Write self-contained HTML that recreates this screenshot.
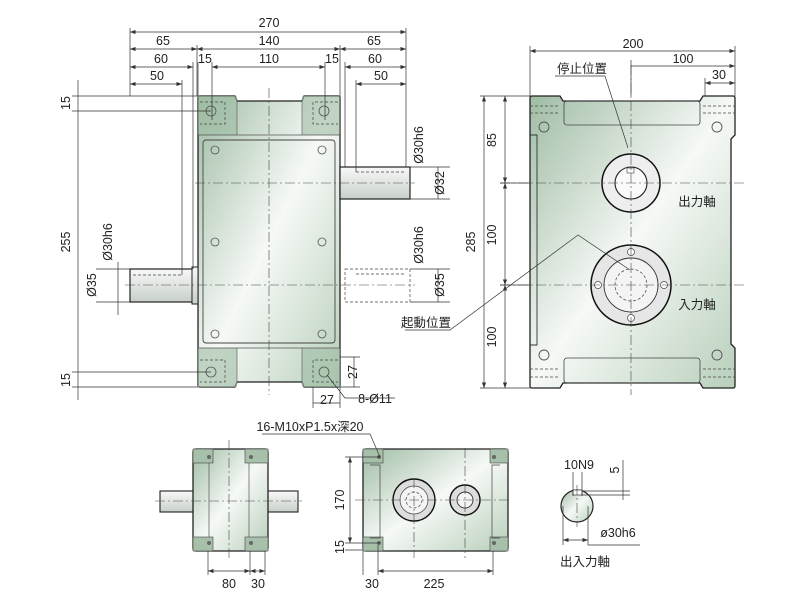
<!DOCTYPE html>
<html><head><meta charset="utf-8"><style>
html,body{margin:0;padding:0;background:#fff}
svg{display:block}
text{font-family:"Liberation Sans","Noto Sans CJK TC",sans-serif;font-size:12.5px;fill:#222}
.d{stroke:#333;stroke-width:0.7;fill:none}
.o{stroke:#222;stroke-width:1.3}
.c{stroke:#444;stroke-width:0.6;stroke-dasharray:10 3 2 3;fill:none}
.h{stroke:#444;stroke-width:0.7;stroke-dasharray:3 2;fill:none}
</style></head><body>
<svg width="800" height="609" viewBox="0 0 800 609">
<defs>
<linearGradient id="g" x1="0" y1="0" x2="1" y2="1">
<stop offset="0" stop-color="#9fbca4"/><stop offset="0.5" stop-color="#f6f9f6"/><stop offset="1" stop-color="#b8cfbb"/></linearGradient>
<linearGradient id="s" x1="0" y1="0" x2="0" y2="1"><stop offset="0" stop-color="#f8f8f8"/><stop offset="1" stop-color="#c8d0c9"/></linearGradient>
<marker id="a" viewBox="0 0 8 6" refX="8" refY="3" markerWidth="8" markerHeight="6" orient="auto-start-reverse"><path d="M0,0L8,3L0,6z" fill="#333"/></marker>
</defs>

<!-- ===== Front view ===== -->
<path class="o" fill="url(#g)" d="M198,98 q0,-2 2,-2 H235 l2,5 H302 l2,-5 H338 q2,0 2,2 V385 q0,2 -2,2 H304 l-2,-5 H237 l-2,5 H200 q-2,0 -2,-2 Z"/>
<rect x="198" y="96" width="39" height="39" fill="#9fbca4" opacity="0.6"/>
<rect x="302" y="96" width="38" height="39" fill="#9fbca4" opacity="0.6"/>
<rect x="198" y="348" width="39" height="39" fill="#9fbca4" opacity="0.6"/>
<rect x="302" y="348" width="38" height="39" fill="#9fbca4" opacity="0.6"/>
<line x1="198" y1="135" x2="340" y2="135" stroke="#555" stroke-width="0.8"/>
<line x1="198" y1="348" x2="340" y2="348" stroke="#555" stroke-width="0.8"/>
<line x1="237" y1="101" x2="237" y2="135" stroke="#555" stroke-width="0.6"/><line x1="302" y1="101" x2="302" y2="135" stroke="#555" stroke-width="0.6"/>
<line x1="237" y1="348" x2="237" y2="382" stroke="#555" stroke-width="0.6"/><line x1="302" y1="348" x2="302" y2="382" stroke="#555" stroke-width="0.6"/>
<rect x="203" y="140" width="132" height="203" rx="3" fill="none" stroke="#444" stroke-width="0.9"/>
<g fill="none" stroke="#555" stroke-width="0.8">
<circle cx="215" cy="150" r="4"/><circle cx="322" cy="150" r="4"/><circle cx="215" cy="242" r="4"/><circle cx="322" cy="242" r="4"/><circle cx="215" cy="334" r="4"/><circle cx="322" cy="334" r="4"/>
<circle cx="211" cy="111" r="5"/><circle cx="324" cy="111" r="5"/><circle cx="211" cy="372" r="5"/><circle cx="324" cy="372" r="5"/></g>
<path class="h" d="M200,102H225V124H200M338,102H313V124H338M200,360H225V382H200M338,360H313V382H338"/>
<!-- shafts -->
<rect x="340" y="167" width="70" height="32" fill="url(#s)" stroke="#222" stroke-width="1.2"/>
<rect x="130" y="269" width="63" height="33" fill="url(#s)" stroke="#222" stroke-width="1.2"/>
<rect x="192" y="267" width="6" height="37" fill="url(#s)" stroke="#222" stroke-width="1"/>
<rect x="345" y="269" width="65" height="33" class="h"/>
<path class="h" d="M356,172H406M356,274H406M133,275H182"/>
<line class="c" x1="269" y1="88" x2="269" y2="395"/>
<line class="c" x1="195" y1="183" x2="415" y2="183"/>
<line class="c" x1="125" y1="285" x2="415" y2="285"/>
<!-- dims top -->
<g class="d">
<path d="M130,28V96M406,28V167M197,45V96M340,45V167M193,62V269M198,62V96M212,62V120M325,62V120M345,62V167M182,80V275M356,80V172"/>
<line x1="130" y1="32" x2="406" y2="32" marker-start="url(#a)" marker-end="url(#a)"/>
<line x1="130" y1="49" x2="197" y2="49" marker-start="url(#a)" marker-end="url(#a)"/>
<line x1="197" y1="49" x2="340" y2="49" marker-start="url(#a)" marker-end="url(#a)"/>
<line x1="340" y1="49" x2="406" y2="49" marker-start="url(#a)" marker-end="url(#a)"/>
<line x1="130" y1="67" x2="193" y2="67" marker-start="url(#a)" marker-end="url(#a)"/>
<line x1="212" y1="67" x2="325" y2="67" marker-start="url(#a)" marker-end="url(#a)"/>
<line x1="345" y1="67" x2="406" y2="67" marker-start="url(#a)" marker-end="url(#a)"/>
<line x1="130" y1="84" x2="182" y2="84" marker-start="url(#a)" marker-end="url(#a)"/>
<line x1="356" y1="84" x2="406" y2="84" marker-start="url(#a)" marker-end="url(#a)"/>
<path d="M72,96H198M72,111H211M72,372H211M72,387H198"/>
<line x1="78" y1="80" x2="78" y2="400"/>
<path d="M96,269H130M96,302H130M118,262V315M410,167H450M410,199H450M410,269H450M410,302H450M438,167V199M438,269V302"/>
<path d="M340,357H360M340,387H360M354,357V387M313,387V408M340,387V408M313,403H340M327,375L345,398H395"/>
</g>
<g text-anchor="middle">
<text x="269" y="27">270</text><text x="163" y="45">65</text><text x="269" y="45">140</text><text x="374" y="45">65</text>
<text x="161" y="63">60</text><text x="205" y="63">15</text><text x="269" y="63">110</text><text x="332" y="63">15</text><text x="375" y="63">60</text>
<text x="157" y="80">50</text><text x="381" y="80">50</text>
<text transform="translate(70,103) rotate(-90)">15</text><text transform="translate(70,242) rotate(-90)">255</text><text transform="translate(70,380) rotate(-90)">15</text>
<text transform="translate(96,285) rotate(-90)">Ø35</text><text transform="translate(112,242) rotate(-90)">Ø30h6</text>
<text transform="translate(423,145) rotate(-90)">Ø30h6</text><text transform="translate(444,183) rotate(-90)">Ø32</text>
<text transform="translate(423,245) rotate(-90)">Ø30h6</text><text transform="translate(444,285) rotate(-90)">Ø35</text>
<text transform="translate(357,372) rotate(-90)">27</text><text x="327" y="404">27</text><text x="375" y="403">8-Ø11</text>
</g>

<!-- ===== Side view ===== -->
<path class="o" fill="url(#g)" d="M530,98 q0,-2 2,-2 H560 l3,5 H700 l3,-5 H733 q2,0 2,2 V135 l-4,4 V344 l4,4 V386 q0,2 -2,2 H703 l-3,-5 H563 l-3,5 H532 q-2,0 -2,-2 Z"/>
<rect x="564" y="101" width="136" height="24" rx="3" fill="none" stroke="#444" stroke-width="0.8"/>
<rect x="564" y="358" width="136" height="25" rx="3" fill="none" stroke="#444" stroke-width="0.8"/>
<path d="M530,135H537V345H530" fill="none" stroke="#333" stroke-width="0.9"/>
<path class="h" d="M530,106H560M530,113H560M703,106H735M703,113H735M530,369H560M530,377H560M703,369H735M703,377H735"/>
<g fill="none" stroke="#555" stroke-width="0.9">
<circle cx="544" cy="127" r="5"/><circle cx="717" cy="127" r="5"/><circle cx="544" cy="355" r="5"/><circle cx="717" cy="355" r="5"/></g>
<circle cx="631" cy="183" r="29" fill="#eee" stroke="#111" stroke-width="1.5"/>
<circle cx="631" cy="183" r="16" fill="#fafafa" stroke="#222" stroke-width="1.1"/>
<rect x="627" y="168" width="7" height="5" fill="none" stroke="#444" stroke-width="0.6"/>
<circle cx="631" cy="285" r="40" fill="#e6e6e6" stroke="#111" stroke-width="1.5"/>
<circle cx="631" cy="285" r="27" fill="#f4f4f4" stroke="#333" stroke-width="0.9"/>
<circle cx="631" cy="285" r="16" class="h"/>
<g fill="#fff" stroke="#444" stroke-width="0.7"><circle cx="631" cy="252" r="3.5"/><circle cx="631" cy="318" r="3.5"/><circle cx="598" cy="285" r="3.5"/><circle cx="664" cy="285" r="3.5"/></g>
<line class="c" x1="631" y1="65" x2="631" y2="395"/>
<line class="c" x1="500" y1="183" x2="745" y2="183"/>
<line class="c" x1="500" y1="285" x2="745" y2="285"/>
<g class="d">
<path d="M530,46V96M735,46V96M631,60V96M705,78V96M480,96H530M500,183H530M500,285H530M480,388H530"/>
<line x1="530" y1="51" x2="735" y2="51" marker-start="url(#a)" marker-end="url(#a)"/>
<line x1="631" y1="66" x2="735" y2="66" marker-end="url(#a)"/>
<line x1="705" y1="83" x2="735" y2="83" marker-start="url(#a)" marker-end="url(#a)"/>
<line x1="484" y1="96" x2="484" y2="388" marker-start="url(#a)" marker-end="url(#a)"/>
<line x1="505" y1="96" x2="505" y2="183" marker-start="url(#a)" marker-end="url(#a)"/>
<line x1="505" y1="183" x2="505" y2="285" marker-start="url(#a)" marker-end="url(#a)"/>
<line x1="505" y1="285" x2="505" y2="388" marker-start="url(#a)" marker-end="url(#a)"/>
<path d="M555,76H605L628,148M405,330H450L578,235L630,270"/>
</g>
<g text-anchor="middle">
<text x="633" y="48">200</text><text x="683" y="63">100</text><text x="719" y="79">30</text>
<text transform="translate(496,140) rotate(-90)">85</text><text transform="translate(496,235) rotate(-90)">100</text>
<text transform="translate(496,337) rotate(-90)">100</text><text transform="translate(475,242) rotate(-90)">285</text>
<text x="582" y="73">停止位置</text><text x="697" y="206">出力軸</text><text x="697" y="309">入力軸</text><text x="426" y="327">起動位置</text>
</g>

<!-- ===== Bottom left ===== -->
<rect x="160" y="491" width="34" height="21" fill="url(#s)" stroke="#222" stroke-width="1.1"/>
<rect x="266" y="491" width="32" height="21" fill="url(#s)" stroke="#222" stroke-width="1.1"/>
<rect x="193" y="449" width="75" height="102" rx="3" fill="url(#g)" stroke="#222" stroke-width="1.3"/>
<g fill="#a6c0aa" stroke="#444" stroke-width="0.6"><rect x="193" y="449" width="20" height="14"/><rect x="245" y="449" width="23" height="14"/><rect x="193" y="537" width="20" height="14"/><rect x="245" y="537" width="23" height="14"/></g>
<path d="M209,463V537M249,463V537" stroke="#555" stroke-width="0.7"/>
<g fill="#666"><circle cx="209" cy="457" r="2"/><circle cx="251" cy="457" r="2"/><circle cx="209" cy="543" r="2"/><circle cx="251" cy="543" r="2"/></g>
<line class="c" x1="229" y1="440" x2="229" y2="560"/><line class="c" x1="155" y1="501" x2="302" y2="501"/>
<g class="d"><path d="M208,551V575M250,551V575M265,551V575"/>
<line x1="208" y1="571" x2="250" y2="571" marker-start="url(#a)" marker-end="url(#a)"/>
<line x1="250" y1="571" x2="265" y2="571" marker-start="url(#a)" marker-end="url(#a)"/></g>
<text x="229" y="588" text-anchor="middle">80</text><text x="258" y="588" text-anchor="middle">30</text>

<!-- ===== Bottom middle ===== -->
<rect x="363" y="449" width="145" height="102" rx="3" fill="url(#g)" stroke="#222" stroke-width="1.3"/>
<g fill="#a6c0aa" stroke="#444" stroke-width="0.6"><rect x="363" y="449" width="20" height="14"/><rect x="490" y="449" width="18" height="14"/><rect x="363" y="537" width="20" height="14"/><rect x="490" y="537" width="18" height="14"/></g>
<path d="M370,465H380V538H370M500,465H492V538H500" fill="none" stroke="#444" stroke-width="0.7"/>
<g fill="#666"><circle cx="379" cy="457" r="2"/><circle cx="494" cy="457" r="2"/><circle cx="379" cy="543" r="2"/><circle cx="494" cy="543" r="2"/></g>
<circle cx="414" cy="500" r="21" fill="#ddd" stroke="#111" stroke-width="1.4"/>
<circle cx="414" cy="500" r="14" fill="#f4f4f4" stroke="#444" stroke-width="0.7"/>
<circle cx="414" cy="500" r="8" class="h"/>
<circle cx="465" cy="500" r="15" fill="#ddd" stroke="#111" stroke-width="1.4"/>
<circle cx="465" cy="500" r="8" fill="#f4f4f4" stroke="#333" stroke-width="0.9"/>
<line class="c" x1="414" y1="478" x2="414" y2="558"/><line class="c" x1="465" y1="448" x2="465" y2="558"/><line class="c" x1="355" y1="500" x2="512" y2="500"/>
<g class="d"><path d="M345,457H380M345,543H380M345,550H363M378,545V575M363,551V575M493,551V575M262,434H370L380,457"/>
<line x1="350" y1="457" x2="350" y2="543" marker-start="url(#a)" marker-end="url(#a)"/>
<line x1="378" y1="571" x2="493" y2="571" marker-start="url(#a)" marker-end="url(#a)"/></g>
<g text-anchor="middle">
<text transform="translate(344,500) rotate(-90)">170</text><text transform="translate(344,547) rotate(-90)">15</text>
<text x="372" y="588">30</text><text x="434" y="588">225</text><text x="310" y="431">16-M10xP1.5x深20</text>
</g>

<!-- ===== Shaft section ===== -->
<circle cx="577" cy="506" r="16" fill="url(#g)" stroke="#222" stroke-width="1.2"/>
<rect x="573" y="490" width="9" height="5" fill="#fff" stroke="#333" stroke-width="0.7"/>
<line class="c" x1="577" y1="485" x2="577" y2="527"/>
<g class="d"><path d="M573,472V496M582,472V496M582,491H630M582,495H630M623,460V500M563,506V545M588,506V545H640"/>
<line x1="563" y1="540" x2="588" y2="540" marker-start="url(#a)" marker-end="url(#a)"/></g>
<g text-anchor="middle">
<text x="579" y="469">10N9</text><text transform="translate(619,470) rotate(-90)">5</text>
<text x="618" y="537">ø30h6</text><text x="585" y="566">出入力軸</text>
</g>
</svg>
</body></html>
